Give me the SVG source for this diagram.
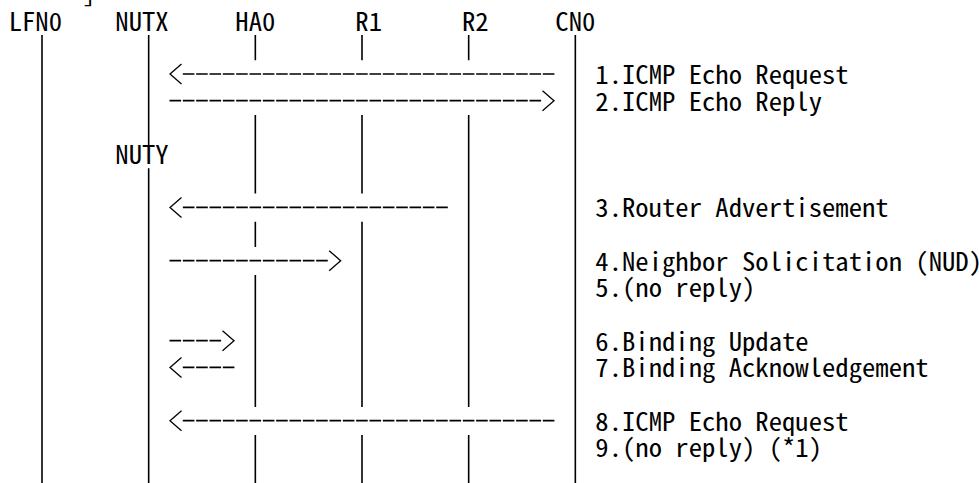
<svg xmlns="http://www.w3.org/2000/svg" width="979" height="483" viewBox="0 0 979 483">
<style>
  text { font-family: "Noto Sans Mono CJK JP", "DejaVu Sans Mono", "Liberation Mono", monospace; font-size: 25px; fill: #000; }
  .life { stroke: #000; stroke-width: 1.6; fill: none; }
  .msg { stroke: #000; stroke-width: 1.7; fill: none; stroke-dasharray: 11.6 1.733; marker-end: url(#arr); }
</style>
<defs>
  <marker id="arr" markerUnits="userSpaceOnUse" viewBox="0 -11 14 22" refX="0" refY="0" markerWidth="14" markerHeight="22" orient="auto" overflow="visible">
    <path d="M0.5,-10 L12,0 L0.5,10" fill="none" stroke="#000" stroke-width="1.3"/>
  </marker>
</defs>
<rect width="979" height="483" fill="#fff"/>
<text x="82.5" y="2" textLength="13.33" lengthAdjust="spacingAndGlyphs">]</text>

<g id="LFN0">
  <text x="8.67" y="30.5" textLength="53.33" lengthAdjust="spacingAndGlyphs">LFN0</text>
  <line class="life" x1="42" y1="35" x2="42" y2="484"/>
</g>
<g id="NUTX">
  <text x="115.33" y="30.5" textLength="53.33" lengthAdjust="spacingAndGlyphs">NUTX</text>
  <line class="life" x1="148.67" y1="35" x2="148.67" y2="146"/>
  <text x="115.33" y="163.8" textLength="53.33" lengthAdjust="spacingAndGlyphs">NUTY</text>
  <line class="life" x1="148.67" y1="168.3" x2="148.67" y2="484"/>
</g>
<g id="HA0">
  <text x="235.33" y="30.5" textLength="40" lengthAdjust="spacingAndGlyphs">HA0</text>
  <path class="life" d="M255.33,35 V60.2 M255.33,115 V193.5 M255.33,221.7 V247 M255.33,275 V407 M255.33,435 V484"/>
</g>
<g id="R1">
  <text x="355.33" y="30.5" textLength="26.67" lengthAdjust="spacingAndGlyphs">R1</text>
  <path class="life" d="M362,35 V60.2 M362,115 V193.5 M362,221.7 V407 M362,435 V484"/>
</g>
<g id="R2">
  <text x="462" y="30.5" textLength="26.67" lengthAdjust="spacingAndGlyphs">R2</text>
  <path class="life" d="M468.67,35 V60.2 M468.67,115 V407 M468.67,435 V484"/>
</g>
<g id="CN0">
  <text x="555.33" y="30.5" textLength="40" lengthAdjust="spacingAndGlyphs">CN0</text>
  <line class="life" x1="575.33" y1="35" x2="575.33" y2="484"/>
</g>

<g id="connectors">
  <path class="msg" d="M554.4,74 H182"/>
  <path class="msg" d="M169.5,100.7 H542"/>
  <path class="msg" d="M447.8,207.4 H182"/>
  <path class="msg" d="M169.5,260.7 H328.67"/>
  <path class="msg" d="M169.5,340.7 H222"/>
  <path class="msg" d="M234.4,367.4 H182"/>
  <path class="msg" d="M554.4,420.7 H182"/>
</g>

<g id="labels">
  <text x="595.33" y="83.8" textLength="253.33" lengthAdjust="spacingAndGlyphs">1.ICMP Echo Request</text>
  <text x="595.33" y="110.5" textLength="226.67" lengthAdjust="spacingAndGlyphs">2.ICMP Echo Reply</text>
  <text x="595.33" y="217.2" textLength="293.33" lengthAdjust="spacingAndGlyphs">3.Router Advertisement</text>
  <text x="595.33" y="270.5" textLength="386.67" lengthAdjust="spacingAndGlyphs">4.Neighbor Solicitation (NUD)</text>
  <text x="595.33" y="297.2" textLength="160" lengthAdjust="spacingAndGlyphs">5.(no reply)</text>
  <text x="595.33" y="350.5" textLength="213.33" lengthAdjust="spacingAndGlyphs">6.Binding Update</text>
  <text x="595.33" y="377.2" textLength="333.33" lengthAdjust="spacingAndGlyphs">7.Binding Acknowledgement</text>
  <text x="595.33" y="430.5" textLength="253.33" lengthAdjust="spacingAndGlyphs">8.ICMP Echo Request</text>
  <text x="595.33" y="457.2" textLength="226.67" lengthAdjust="spacingAndGlyphs">9.(no reply) (*1)</text>
</g>
</svg>
